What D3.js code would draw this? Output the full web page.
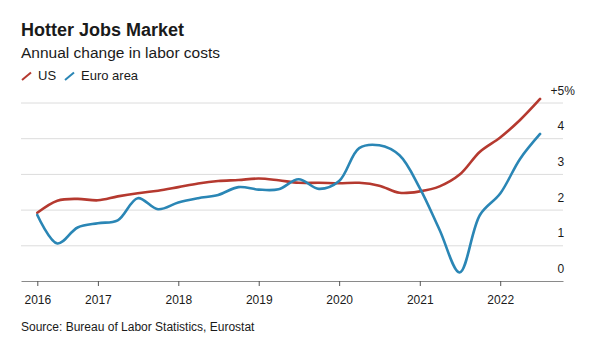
<!DOCTYPE html>
<html lang="en">

<head>
    <meta charset="UTF-8">
    <title>Hotter Jobs Market</title>
</head>

<body style="margin:0;background:#fff">
    <script src="https://d3js.org/d3.v7.min.js"></script>
    <style>
        svg text {
            font-family: "Liberation Sans", Arial, sans-serif;
            fill: #1a1a1a;
        }
    </style>
    <script>
        // quarterly readings, Q1 2016 .. Q2 2022
        var quarters = ["2016Q1", "2016Q2", "2016Q3", "2016Q4", "2017Q1", "2017Q2", "2017Q3", "2017Q4",
            "2018Q1", "2018Q2", "2018Q3", "2018Q4", "2019Q1", "2019Q2", "2019Q3", "2019Q4",
            "2020Q1", "2020Q2", "2020Q3", "2020Q4", "2021Q1", "2021Q2", "2021Q3", "2021Q4",
            "2022Q1", "2022Q2"];
        var usValues = [1.91, 2.25, 2.30, 2.26, 2.37, 2.46, 2.53, 2.63, 2.73, 2.80, 2.83, 2.87,
            2.82, 2.75, 2.75, 2.74, 2.75, 2.67, 2.47, 2.51, 2.65, 2.98, 3.62, 4.02, 4.51, 5.10];
        var euroValues = [1.85, 1.05, 1.50, 1.62, 1.70, 2.32, 2.01, 2.20, 2.32, 2.41, 2.63, 2.56,
            2.57, 2.85, 2.58, 2.80, 3.72, 3.80, 3.52, 2.60, 1.43, 0.24, 1.85, 2.45, 3.42, 4.12];
        var yearLabels = ["2016", "2017", "2018", "2019", "2020", "2021", "2022"];
        var yTicks = [0, 1, 2, 3, 4, 5];
        var seriesNames = ["US", "Euro area"];
        var colors = ["#b5392f", "#2a86b5"];

        // a quarter is plotted at its end
        function quarterDate(q) {
            var yr = +q.slice(0, 4), n = +q.slice(5);
            return new Date(yr, n * 3, 1);
        }
        var dates = quarters.map(quarterDate);

        var width = 589, height = 340;
        var svg = d3.select("body").append("svg")
            .attr("width", width)
            .attr("height", height);

        var x = d3.scaleTime()
            .domain([new Date(2016, 0, 18), new Date(2022, 9, 13)])
            .range([21, 563]);
        var y = d3.scaleLinear().domain([0, 5]).range([281, 102.5]);

        // title block
        svg.append("text").attr("x", 21).attr("y", 36)
            .style("font-size", "18px").style("font-weight", "bold")
            .text("Hotter Jobs Market");
        svg.append("text").attr("x", 21).attr("y", 57.5)
            .style("font-size", "15.5px")
            .text("Annual change in labor costs");

        // legend
        var legX = [22, 65];
        var leg = svg.selectAll("g.leg").data(seriesNames).enter()
            .append("g").attr("class", "leg")
            .attr("transform", function (d, i) { return "translate(" + legX[i] + ",0)"; });
        leg.append("line")
            .attr("x1", 0).attr("y1", 80).attr("x2", 9).attr("y2", 72.5)
            .attr("stroke", function (d, i) { return colors[i]; })
            .attr("stroke-width", 2);
        leg.append("text").attr("x", 16).attr("y", 80)
            .style("font-size", "13px")
            .text(function (d) { return d; });

        // grid lines
        var grid = svg.append("g")
            .attr("transform", "translate(563,0)")
            .call(d3.axisRight(y).tickValues(yTicks.slice(1)).tickSize(-542).tickFormat(""));
        grid.select(".domain").remove();
        grid.selectAll("line").attr("stroke", "#dcdcdc");

        // y labels, digits left-aligned, "+" hanging
        var yl = svg.selectAll("g.ylab").data(yTicks).enter()
            .append("g").attr("class", "ylab");
        yl.append("text")
            .attr("x", 557.5)
            .attr("y", function (d) { return y(d) - 8; })
            .style("font-size", "12px")
            .text(function (d) { return d === 5 ? d + "%" : d; });
        yl.filter(function (d) { return d === 5; }).append("text")
            .attr("x", 557.5)
            .attr("y", function (d) { return y(d) - 8; })
            .attr("text-anchor", "end")
            .style("font-size", "12px")
            .text("+");

        // x axis
        var tickDates = yearLabels.map(function (yr, i) {
            return i === 0 ? dates[0] : new Date(+yr, 0, 1);
        });
        var xAxis = svg.append("g")
            .attr("transform", "translate(0," + y(0) + ")")
            .call(d3.axisBottom(x).tickValues(tickDates)
                .tickFormat(function (d, i) { return yearLabels[i]; })
                .tickSize(5).tickSizeOuter(0).tickPadding(9));
        xAxis.select(".domain").attr("stroke", "#8a8a8a");
        xAxis.selectAll(".tick line").attr("stroke", "#555");
        xAxis.selectAll("text")
            .style("font-size", "12px")
            .style("font-family", "'Liberation Sans', Arial, sans-serif")
            .attr("fill", "#1a1a1a");

        // lines
        var line = d3.line()
            .x(function (d, i) { return x(dates[i]); })
            .y(function (d) { return y(d); })
            .curve(d3.curveCatmullRom.alpha(0.5));
        svg.selectAll("path.series").data([usValues, euroValues]).enter()
            .append("path").attr("class", "series")
            .attr("d", line)
            .attr("fill", "none")
            .attr("stroke", function (d, i) { return colors[i]; })
            .attr("stroke-width", 2.6)
            .attr("stroke-linejoin", "round")
            .attr("stroke-linecap", "round");

        // source
        svg.append("text").attr("x", 21).attr("y", 330.5)
            .style("font-size", "12px")
            .text("Source: Bureau of Labor Statistics, Eurostat");
    </script>
</body>

</html>
